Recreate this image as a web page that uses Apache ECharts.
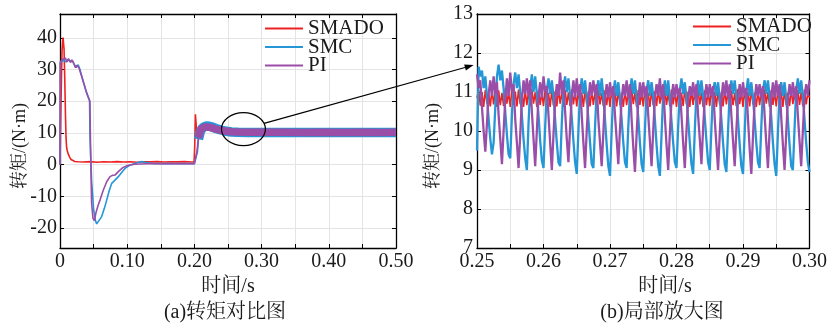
<!DOCTYPE html>
<html><head><meta charset="utf-8">
<script src="https://cdn.jsdelivr.net/npm/echarts@6.0.0/dist/echarts.min.js"></script>
<style>html,body{margin:0;padding:0;background:#fff}#c{width:830px;height:325px}</style>
</head><body><div id="c"></div><script>
// ---------- data: (a) full view, torque vs time ----------
const leftRedTime = [0,0.0015,0.003,0.0045,0.0052,0.006,0.007,0.0082,0.009,0.0098,0.011,0.0125,0.0145,0.0165,0.019,0.022,0.027,0.035,0.045,0.055,0.065,0.075,0.085,0.095,0.105,0.115,0.125,0.135,0.145,0.155,0.165,0.175,0.185,0.195,0.1995,0.2005,0.2015,0.2028,0.204,0.2052,0.2065,0.21,0.22,0.24,0.26,0.3,0.35,0.4,0.45,0.5];
const leftRedVal  = [0,20,36,40.1,39.5,36.5,28,15,8.5,5.5,4.2,3.2,2.3,1.6,1.2,1.0,0.9,0.8,0.95,0.75,0.9,0.8,0.95,0.8,0.9,0.75,0.9,0.85,0.95,0.8,0.9,0.85,0.95,0.8,0.85,6,15.9,12,9.3,10.8,11.6,11.5,11.3,11.0,10.9,10.85,10.85,10.85,10.85,10.85];

const leftSmcTime = [0,0.0005,0.003,0.006,0.009,0.012,0.015,0.018,0.021,0.024,0.027,0.030,0.033,0.036,0.039,0.042,0.044,0.0446,0.047,0.050,0.0525,0.0546,0.0565,0.062,0.066,0.0695,0.073,0.077,0.0818,0.0868,0.092,0.0967,0.103,0.109,0.115,0.1215,0.129,0.137,0.149,0.16,0.17,0.18,0.19,0.2,0.2025,0.2045,0.206];
const leftSmcVal  = [0,32.2,32.1,33.0,32.4,33.2,32.5,32.9,31.7,30.6,31.5,29.8,27.3,25.2,23.0,21.2,20.2,9,-5,-14,-17.5,-18.7,-18.3,-16.4,-13.8,-11.2,-8.4,-5.9,-4.9,-3.8,-2.4,-1.2,-0.3,0.2,0.6,0.95,0.6,0.4,0.3,0.35,0.3,0.35,0.3,0.3,0.6,4,8];
const leftSmcBandTime = [0.206,0.2085,0.211,0.214,0.218,0.222,0.227,0.232,0.238,0.245,0.255,0.265,0.28,0.3,0.33,0.36,0.39,0.42,0.45,0.48,0.5];
const leftSmcBandVal  = [8,10.2,11.3,11.9,12.2,12.1,11.8,11.4,11.0,10.6,10.3,10.2,10.15,10.1,10.15,10.1,10.15,10.1,10.15,10.1,10.1];

const leftPiTime = [0,0.0005,0.002,0.004,0.006,0.008,0.0105,0.013,0.0155,0.018,0.0205,0.023,0.0245,0.026,0.028,0.0305,0.033,0.0355,0.038,0.0405,0.0428,0.0445,0.0455,0.047,0.049,0.0511,0.0535,0.0565,0.0595,0.0645,0.0695,0.0744,0.078,0.0818,0.0868,0.090,0.094,0.099,0.104,0.111,0.119,0.13,0.14,0.15,0.16,0.17,0.18,0.19,0.2,0.202,0.204,0.206];
const leftPiVal  = [0,32.4,32.0,33.2,32.6,33.6,32.4,33.4,32.2,33.0,31.9,30.6,31.3,31.8,30.7,29.0,27.4,25.6,23.8,22.2,20.9,19.8,5,-12,-16.9,-17.7,-15.2,-13.0,-11.2,-8.0,-5.4,-3.8,-3.4,-3.3,-2.2,-1.6,-0.9,-0.4,-0.1,0.1,0.2,0.25,0.3,0.25,0.3,0.25,0.3,0.25,0.3,0.6,4.5,8.5];
const leftPiBandTime = [0.206,0.2085,0.211,0.214,0.218,0.222,0.227,0.232,0.238,0.245,0.255,0.265,0.28,0.3,0.33,0.36,0.39,0.42,0.45,0.48,0.5];
const leftPiBandVal  = [8.5,10.5,11.4,11.8,11.9,11.8,11.55,11.2,10.9,10.6,10.35,10.25,10.2,10.2,10.2,10.15,10.2,10.15,10.2,10.15,10.2];

// ---------- data: (b) zoomed view 0.25 s – 0.30 s, sampled every 0.25 ms ----------
const zoomStart = 0.25, zoomStep = 0.00025;
const zoomSmado = [
10.85,11.05,10.65,11.0,10.62,11.05,10.7,10.98,10.63,11.06,
10.68,11.02,10.62,11.04,10.66,10.97,10.64,11.08,10.7,11.0,
10.62,11.05,10.67,11.01,10.63,11.06,10.69,10.98,10.62,11.04,
10.66,11.02,10.63,11.07,10.7,10.99,10.62,11.05,10.67,11.0,
10.64,11.06,10.69,10.97,10.62,11.04,10.65,11.02,10.63,11.08,
10.7,11.0,10.62,11.05,10.67,10.99,10.64,11.06,10.68,11.02,
10.63,11.04,10.66,10.98,10.62,11.07,10.69,11.01,10.63,11.05,
10.67,11.0,10.62,11.06,10.68,10.98,10.64,11.04,10.66,11.02,
10.62,11.07,10.7,11.0,10.63,11.05,10.67,10.98,10.62,11.04,
10.66,11.02,10.64,11.08,10.69,10.99,10.62,11.05,10.67,11.01,
10.63,11.06,10.68,10.98,10.62,11.04,10.66,11.02,10.64,11.07,
10.7,11.0,10.62,11.05,10.67,10.99,10.63,11.06,10.68,11.02,
10.62,11.04,10.66,10.98,10.64,11.08,10.69,11.01,10.62,11.05,
10.67,11.0,10.63,11.06,10.68,10.98,10.62,11.04,10.66,11.02,
10.64,11.07,10.7,11.0,10.62,11.05,10.67,10.99,10.63,11.06,
10.68,11.02,10.62,11.04,10.66,10.98,10.64,11.08,10.69,11.01,
10.62,11.05,10.67,11.0,10.63,11.06,10.68,10.98,10.62,11.04,
10.66,11.02,10.64,11.07,10.7,11.0,10.62,11.05,10.67,10.99,
10.63,11.06,10.68,11.02,10.62,11.04,10.66,10.98,10.64,11.08,
10.69,11.01,10.62,11.05,10.67,11.0,10.63,11.06,10.68,10.98,
10.85];
const zoomSmc = [
9.5,11.65,11.4,11.55,11.1,11.4,10.9,10.3,9.8,9.4,
9.7,10.6,11.4,11.7,11.3,11.55,11.1,10.5,9.9,9.4,
9.3,10.4,11.2,11.5,11.1,11.45,11.0,10.4,9.8,9.3,
9.0,10.2,11.1,11.45,11.0,11.4,10.95,10.4,9.75,9.25,
9.05,10.1,11.05,11.35,10.95,11.3,10.9,10.3,9.7,9.2,
9.1,10.2,11.1,11.4,11.0,11.35,10.9,10.35,9.75,9.2,
8.9,10.0,11.0,11.35,10.95,11.3,10.85,10.3,9.7,9.15,
9.05,10.1,11.05,11.3,10.9,11.35,10.9,10.3,9.65,9.1,
8.85,10.0,11.0,11.3,10.9,11.25,10.85,10.3,9.7,9.2,
9.05,10.1,11.0,11.35,10.95,11.3,10.85,10.35,9.7,9.15,
8.95,10.0,11.05,11.3,10.9,11.25,10.9,10.3,9.65,9.1,
8.85,9.9,10.95,11.3,10.9,11.3,10.85,10.25,9.7,9.2,
9.05,10.1,11.05,11.35,10.95,11.25,10.85,10.3,9.7,9.15,
8.9,10.0,11.0,11.3,10.9,11.3,10.9,10.35,9.75,9.2,
9.0,10.05,11.05,11.25,10.9,11.25,10.85,10.3,9.7,9.15,
8.95,10.0,11.0,11.3,10.95,11.3,10.9,10.3,9.65,9.1,
8.9,9.95,11.0,11.35,10.9,11.25,10.85,10.3,9.7,9.2,
9.05,10.1,11.05,11.3,10.95,11.3,10.9,10.35,9.7,9.15,
8.85,9.95,11.0,11.25,10.9,11.25,10.85,10.3,9.65,9.1,
9.0,10.05,11.05,11.35,10.95,11.3,10.9,10.3,9.7,9.2,
8.95];
const zoomPi = [
11.45,11.1,11.3,10.6,10.0,9.47,10.2,10.95,11.3,10.9,
11.4,10.95,11.25,10.4,9.8,9.15,10.0,10.8,11.35,10.9,
11.5,11.0,11.2,10.3,9.7,9.05,9.9,10.8,11.3,10.95,
11.35,10.9,11.3,10.5,9.8,9.1,10.0,10.9,11.25,10.85,
11.4,11.0,11.15,10.4,9.7,9.0,9.9,10.75,11.2,10.9,
11.5,10.95,11.3,10.5,9.8,9.2,10.1,10.9,11.3,10.85,
11.35,10.9,11.2,10.4,9.7,9.05,10.0,10.8,11.25,10.9,
11.3,10.95,11.2,10.3,9.7,9.1,9.95,10.85,11.2,10.85,
11.25,10.9,11.15,10.4,9.8,9.15,10.05,10.8,11.2,10.9,
11.3,10.85,11.2,10.3,9.6,8.95,9.9,10.75,11.25,10.85,
11.25,10.9,11.15,10.4,9.75,9.1,10.0,10.85,11.2,10.9,
11.35,10.85,11.2,10.35,9.65,9.0,9.95,10.8,11.2,10.85,
11.2,10.9,11.1,10.4,9.7,9.05,10.0,10.8,11.15,10.9,
11.25,10.85,11.2,10.4,9.8,9.15,10.05,10.85,11.2,10.85,
11.2,10.9,11.15,10.3,9.65,9.0,9.9,10.8,11.25,10.9,
11.3,10.85,11.2,10.4,9.75,9.1,10.0,10.8,11.2,10.85,
11.25,10.9,11.1,10.3,9.55,8.9,9.85,10.75,11.2,10.9,
11.2,10.85,11.15,10.4,9.7,9.05,10.0,10.85,11.25,10.85,
11.3,10.9,11.2,10.35,9.65,9.0,9.95,10.8,11.2,10.9,
11.25,10.85,11.15,10.4,9.75,9.1,10.0,10.85,11.2,10.9,
11.3];

// ---------- labels ----------
const seriesNames = ['SMADO','SMC','PI'];
const leftYTicks = [-20,-10,0,10,20,30,40];
const yName = '转矩/(N·m)';
const xName = '时间/s';
const captionA = '(a)转矩对比图';
const captionB = '(b)局部放大图';

// ---------- style ----------
const FONT = '"Liberation Serif","Times New Roman","Noto Serif CJK SC","Noto Sans CJK SC",serif';
const COLORS = {SMADO:'#ee2222', SMC:'#2596d6', PI:'#9b4ea8'};
const pair = (ts, vs) => ts.map((t,i)=>[t, vs[i]]);
const zoomPairs = vs => vs.map((v,i)=>[+(zoomStart + i*zoomStep).toFixed(5), v]);

const chart = echarts.init(document.getElementById('c'));
const frame = {show:true, onZero:false, lineStyle:{color:'#000', width:1.3}};
const tick = {show:true, inside:true, length:4, lineStyle:{color:'#000', width:1}};
const split = {show:true, lineStyle:{color:'#e4e4e4', width:1}};
const lbl = {color:'#1a1a1a', fontFamily:FONT, fontSize:20};

function xAxes(grid, min, max, interval, fmt){
  return [
    {type:'value', gridIndex:grid, position:'bottom', min, max, interval, axisLine:frame, axisTick:tick,
     splitLine:split, axisLabel:Object.assign({margin:4, formatter:fmt, showMinLabel:true, showMaxLabel:true}, lbl)},
    {type:'value', gridIndex:grid, position:'top', min, max, interval, axisLine:frame, axisTick:tick,
     splitLine:{show:false}, axisLabel:{show:false}}
  ];
}
const fmtA = v => { const m = Math.round(v*100); if (m % 10 !== 0) return ''; return m === 0 ? '0' : (m/100).toFixed(2); };
const fmtB = v => { const m = Math.round(v*1000); if (m % 10 !== 0) return ''; return (m/1000).toFixed(2); };

const xAxis = [...xAxes(0, 0, 0.5, 0.05, fmtA), ...xAxes(1, 0.25, 0.30, 0.005, fmtB)];
const yAxis = [
  {type:'value', gridIndex:0, position:'left', min:-26.3, max:47.5, axisLine:frame,
   axisTick:Object.assign({customValues:leftYTicks}, tick), splitLine:split,
   axisLabel:Object.assign({margin:3, customValues:leftYTicks, formatter:v=>String(v)}, lbl)},
  {type:'value', gridIndex:0, position:'right', min:-26.3, max:47.5, axisLine:frame,
   axisTick:Object.assign({customValues:leftYTicks}, tick), splitLine:{show:false}, axisLabel:{show:false}},
  {type:'value', gridIndex:1, position:'left', min:7, max:13, interval:1, axisLine:frame, axisTick:tick,
   splitLine:split, axisLabel:Object.assign({margin:4, formatter:v=>String(v)}, lbl)},
  {type:'value', gridIndex:1, position:'right', min:7, max:13, interval:1, axisLine:frame, axisTick:tick,
   splitLine:{show:false}, axisLabel:{show:false}}
];

function line(name, data, xi, yi, width){
  return {name, type:'line', data, xAxisIndex:xi, yAxisIndex:yi, symbol:'none', showSymbol:false,
    silent:true, animation:false, clip:true, lineStyle:{color:COLORS[name], width}, itemStyle:{color:COLORS[name]}};
}
const series = [
  line('SMADO', pair(leftRedTime, leftRedVal), 0, 0, 1.6),
  line('SMC', pair(leftSmcTime, leftSmcVal), 0, 0, 1.6),
  line('SMC', pair(leftSmcBandTime, leftSmcBandVal), 0, 0, 9.5),
  line('PI', pair(leftPiTime, leftPiVal), 0, 0, 1.6),
  line('PI', pair(leftPiBandTime, leftPiBandVal), 0, 0, 7.5),
  line('SMADO', zoomPairs(zoomSmado), 2, 2, 1.6),
  line('SMC', zoomPairs(zoomSmc), 2, 2, 2.3),
  line('PI', zoomPairs(zoomPi), 2, 2, 2.3)
];

const legendBase = {data:seriesNames, orient:'vertical', icon:'rect', itemWidth:38, itemHeight:2, itemGap:-2.5, padding:0,
  selectedMode:false, textStyle:{fontFamily:FONT, fontSize:21, color:'#1a1a1a', lineHeight:21}};

chart.setOption({
  animation:false,
  backgroundColor:'#fff',
  grid:[{left:60, top:14, width:336, height:234}, {left:477, top:14, width:340, height:234}],
  xAxis, yAxis, series,
  legend:[Object.assign({left:265, top:18}, legendBase), Object.assign({left:693, top:16}, legendBase)]
});

// ---------- annotations: axis names, captions, ellipse and arrow ----------
const c = chart.convertToPixel({xAxisIndex:0, yAxisIndex:0}, [0.273, 11.2]);
const e = chart.convertToPixel({xAxisIndex:0, yAxisIndex:0}, [0.273 + 0.0327, 11.2 - 5.2]);
const rx = e[0]-c[0], ry = e[1]-c[1];
const tip = chart.convertToPixel({xAxisIndex:2, yAxisIndex:2}, [0.2495, 11.69]);
const dx = tip[0]-c[0], dy = tip[1]-c[1];
const s = 1/Math.sqrt((dx/rx)**2 + (dy/ry)**2);
const start = [c[0]+s*dx, c[1]+s*dy];
const len = Math.hypot(dx,dy), ux = dx/len, uy = dy/len;
const headL = 9, headW = 3.2;
const base = [tip[0]-ux*headL, tip[1]-uy*headL];
const txt = (text, x, y, size, rot) => ({type:'text', x, y, rotation:rot||0, silent:true,
  style:{text, font:`${size}px ${FONT}`, fill:'#1a1a1a', textAlign:'center', textVerticalAlign:'middle'}});
chart.setOption({graphic:[
  {type:'ellipse', shape:{cx:c[0], cy:c[1], rx, ry}, style:{fill:'none', stroke:'#000', lineWidth:1.2}, silent:true, z:100},
  {type:'line', shape:{x1:start[0], y1:start[1], x2:base[0], y2:base[1]}, style:{stroke:'#000', lineWidth:1.2}, silent:true, z:100},
  {type:'polygon', shape:{points:[tip, [base[0]-uy*headW, base[1]+ux*headW], [base[0]+uy*headW, base[1]-ux*headW]]}, style:{fill:'#000'}, silent:true, z:100},
  txt(yName, 20, 146, 18, Math.PI/2),
  txt(yName, 433, 146, 18, Math.PI/2),
  txt(xName, 228, 287, 20),
  txt(xName, 665, 287, 20),
  txt(captionA, 225, 313, 20),
  txt(captionB, 662, 313, 20)
]});
</script></body></html>
